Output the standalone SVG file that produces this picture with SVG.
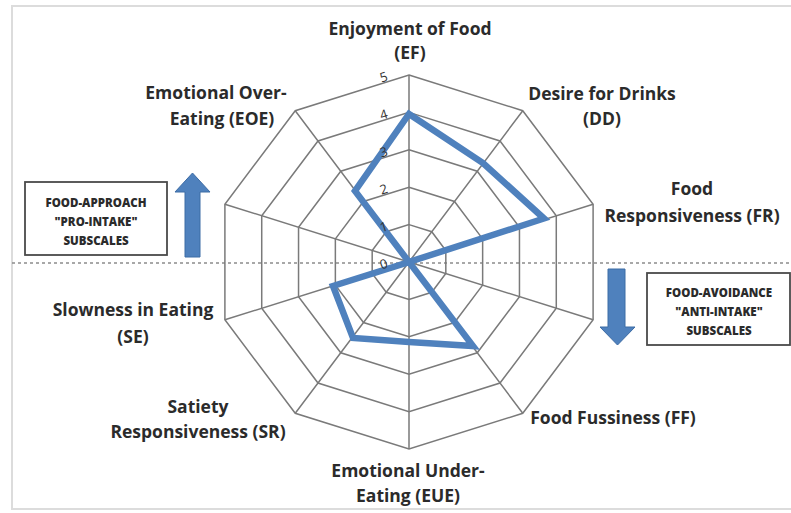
<svg xmlns="http://www.w3.org/2000/svg" width="791" height="513" viewBox="0 0 791 513">
<style>
.grid{fill:none;stroke:#7a7a7a;stroke-width:1.5}
.lbl{font-family:"Open Sans","Liberation Sans",sans-serif;font-weight:700;font-size:17.5px;fill:#2b2b2b;text-anchor:middle}
.tick{font-family:"Open Sans","Liberation Sans",sans-serif;font-size:13px;fill:#333;text-anchor:middle}
.box{fill:#fff;stroke:#4a4a4a;stroke-width:1.8}
.boxt{font-family:"Open Sans","Liberation Sans",sans-serif;font-weight:800;font-size:11.5px;fill:#2b2b2b;text-anchor:middle}
.arrow{fill:#4f81bd;stroke:#3d6ca5;stroke-width:1}
</style>
<rect x="0" y="0" width="791" height="513" fill="#fff"/>
<rect x="12" y="6" width="800" height="503" fill="#fff" stroke="#dcdcdc" stroke-width="2"/>
<line x1="12" y1="263" x2="791" y2="263" stroke="#8c8c8c" stroke-width="1.5" stroke-dasharray="3,3"/>
<g id="grid">
<polygon class="grid" points="409,224.6 431.75,231.74 445.82,250.44 445.82,273.56 431.75,292.26 409,299.4 386.25,292.26 372.18,273.56 372.18,250.44 386.25,231.74"/>
<polygon class="grid" points="409,187.2 454.5,201.48 482.64,238.88 482.64,285.12 454.5,322.52 409,336.8 363.5,322.52 335.36,285.12 335.36,238.88 363.5,201.48"/>
<polygon class="grid" points="409,149.8 477.25,171.22 519.46,227.32 519.46,296.68 477.25,352.78 409,374.2 340.75,352.78 298.54,296.68 298.54,227.32 340.75,171.22"/>
<polygon class="grid" points="409,112.4 500,140.96 556.28,215.76 556.28,308.24 500,383.04 409,411.6 318,383.04 261.72,308.24 261.72,215.76 318,140.96"/>
<polygon class="grid" points="409,75 522.75,110.7 593.1,204.2 593.1,319.8 522.75,413.3 409,449 295.25,413.3 224.9,319.8 224.9,204.2 295.25,110.7"/>
<path class="grid" d="M409,262L409,75M409,262L522.75,110.7M409,262L593.1,204.2M409,262L593.1,319.8M409,262L522.75,413.3M409,262L409,449M409,262L295.25,413.3M409,262L224.9,319.8M409,262L224.9,204.2M409,262L295.25,110.7"/>
</g>
<g id="series">
<polygon points="409,114 483,163 544,218.5 409,262 473,346 409,342 353,338 333,286 409,262 355,191" fill="none" stroke="#4f81bd" stroke-width="6.5" stroke-linejoin="miter"/>
</g>
<g id="ticks">
<text class="tick" x="385" y="268.5" transform="rotate(-17.4 385 268.5)">0</text>
<text class="tick" x="385" y="231.1" transform="rotate(-17.4 385 231.1)">1</text>
<text class="tick" x="385" y="193.7" transform="rotate(-17.4 385 193.7)">2</text>
<text class="tick" x="385" y="156.3" transform="rotate(-17.4 385 156.3)">3</text>
<text class="tick" x="385" y="118.9" transform="rotate(-17.4 385 118.9)">4</text>
<text class="tick" x="385" y="81.5" transform="rotate(-17.4 385 81.5)">5</text>
</g>
<g id="EF"><text class="lbl" x="410" y="35">Enjoyment of Food</text><text class="lbl" x="410" y="59">(EF)</text></g>
<g id="DD"><text class="lbl" x="602" y="100">Desire for Drinks</text><text class="lbl" x="602" y="125">(DD)</text></g>
<g id="FR"><text class="lbl" x="692" y="195">Food</text><text class="lbl" x="692" y="222">Responsiveness (FR)</text></g>
<g id="FF"><text class="lbl" x="613" y="424">Food Fussiness (FF)</text></g>
<g id="EUE"><text class="lbl" x="408" y="477">Emotional Under-</text><text class="lbl" x="408" y="502">Eating (EUE)</text></g>
<g id="SR"><text class="lbl" x="198" y="413">Satiety</text><text class="lbl" x="198" y="438">Responsiveness (SR)</text></g>
<g id="SE"><text class="lbl" x="133" y="316">Slowness in Eating</text><text class="lbl" x="133" y="343">(SE)</text></g>
<g id="EOE"><text class="lbl" x="216" y="99">Emotional Over-</text><text class="lbl" x="222" y="125">Eating (EOE)</text></g>
<g id="approach">
<rect class="box" x="25" y="182" width="142" height="73"/>
<text class="boxt" x="96" y="207">FOOD-APPROACH</text>
<text class="boxt" x="96" y="226">"PRO-INTAKE"</text>
<text class="boxt" x="96" y="245">SUBSCALES</text>
<polygon class="arrow" points="192.5,173 210,192 200,192 200,257 185,257 185,192 175,192"/>
</g>
<g id="avoidance">
<rect class="box" x="647" y="273" width="143" height="72"/>
<text class="boxt" x="719" y="297">FOOD-AVOIDANCE</text>
<text class="boxt" x="719" y="316">"ANTI-INTAKE"</text>
<text class="boxt" x="719" y="335">SUBSCALES</text>
<polygon class="arrow" points="608,269 625,269 625,327 635,327 617.5,345 600,327 608,327"/>
</g>
</svg>
